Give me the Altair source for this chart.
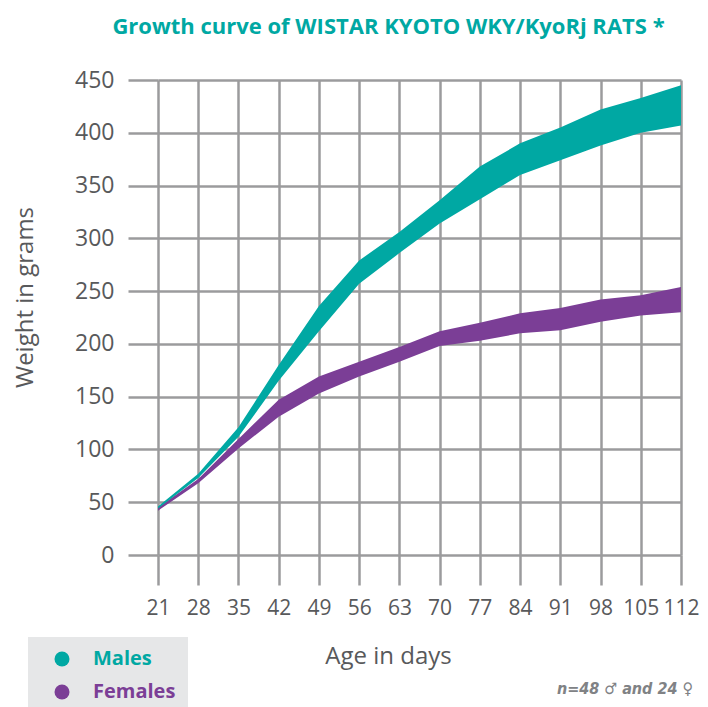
import altair as alt
import pandas as pd

days = [21, 28, 35, 42, 49, 56, 63, 70, 77, 84, 91, 98, 105, 112]
males_upper = [46, 77, 121, 180, 236, 279, 306, 336, 368, 390, 405, 422, 433, 445]
males_lower = [44, 73, 112, 165, 212, 257, 286, 314, 337, 360, 374, 388, 400, 407]
females_upper = [45, 72, 110, 147, 169, 183, 197, 212, 220, 229, 234, 242, 246, 254]
females_lower = [42, 68, 101, 131, 153, 169, 183, 198, 203, 210, 213, 221, 227, 230]
series = ["Males", "Females"]
y_ticks = [0, 50, 100, 150, 200, 250, 300, 350, 400, 450]
note = ["n=48 \u2642 and 24 \u2640"]

TEAL = "#00A8A3"
PURPLE = "#7B3E96"
GRID = "#9b9b9d"
TEXT = "#58595b"

rows = []
for d, u, l in zip(days, males_upper, males_lower):
    rows.append({"day": d, "upper": u, "lower": l, "sex": "Males"})
for d, u, l in zip(days, females_upper, females_lower):
    rows.append({"day": d, "upper": u, "lower": l, "sex": "Females"})
df = pd.DataFrame(rows)

color_scale = alt.Scale(domain=series, range=[TEAL, PURPLE])

x_enc = alt.X(
    "day:Q",
    scale=alt.Scale(domain=[21, 112], nice=False, zero=False),
    axis=alt.Axis(
        values=days, title="Age in days", titleX=230, titleY=108,
        titleBaseline="alphabetic", titleAlign="center",
        labelOverlap=False, labelFlush=False, labelFontSize=21, labelPadding=12,
    ),
)
y_enc = alt.Y(
    "upper:Q",
    scale=alt.Scale(domain=[0, 450], nice=False),
    axis=alt.Axis(
        values=y_ticks, title="Weight in grams", titleX=-133, titleY=217,
        titleAngle=270, titleBaseline="middle", titleAlign="center",
        labelFontSize=23, labelPadding=14, labelFlush=False,
    ),
)

legend = alt.Legend(
    title=None, orient="none", legendX=-130, legendY=557,
    fillColor="#e6e7e8", padding=12, symbolOffset=12,
    symbolType="circle", symbolSize=225, symbolStrokeWidth=0,
    labelFont="Open Sans", labelFontSize=20, labelFontWeight="bold",
    labelOffset=21, rowPadding=13,
    labelColor=alt.ExprRef("datum.label == 'Males' ? '%s' : '%s'" % (TEAL, PURPLE)),
)

base = alt.Chart(df)
fem = base.transform_filter(alt.datum.sex == "Females").mark_area(
    interpolate="linear", opacity=1
).encode(
    x=x_enc, y=y_enc, y2="lower:Q",
    fill=alt.Fill("sex:N", scale=color_scale, legend=legend),
)
mal = base.transform_filter(alt.datum.sex == "Males").mark_area(
    interpolate="linear", opacity=1
).encode(
    x=x_enc, y=y_enc, y2="lower:Q",
    fill=alt.Fill("sex:N", scale=color_scale, legend=legend),
)

note_layer = alt.Chart(pd.DataFrame({"t": note})).mark_text(
    align="right", baseline="alphabetic", font="DejaVu Sans Condensed", fontSize=16,
    fontStyle="italic", fontWeight="bold", color="#808285",
).encode(x=alt.value(535), y=alt.value(614), text="t:N")

chart = alt.layer(fem, mal, note_layer).properties(
    width=523, height=475,
    autosize=alt.AutoSizeParams(type="none"),
    padding={"left": 150, "top": 72, "right": 19, "bottom": 160},
    title=alt.TitleParams(
        "Growth curve of WISTAR KYOTO WKY/KyoRj RATS *",
        font="Open Sans", fontSize=22, fontWeight="bold", color=TEAL,
        anchor="middle", frame="group", dx=-31, baseline="alphabetic", offset=13,
    ),
).configure_view(stroke=None).configure_axis(
    domain=False, grid=True, gridColor=GRID, gridWidth=2.5, gridOpacity=1,
    tickColor=GRID, tickWidth=2.5, tickSize=30,
    labelFont="Open Sans", labelColor=TEXT,
    titleFont="Open Sans", titleFontSize=24, titleFontWeight="normal", titleColor=TEXT,
)

chart.save("out.html", embed_options={"renderer": "svg", "actions": False})
